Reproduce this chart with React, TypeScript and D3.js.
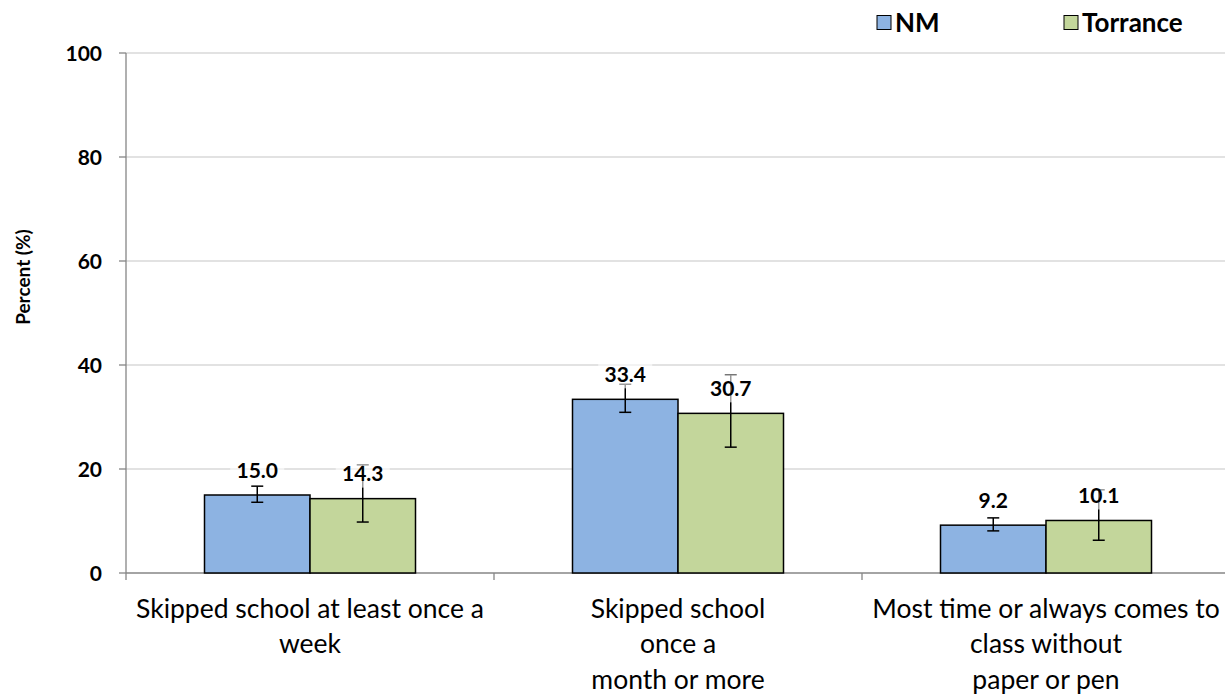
import React from "react";
import * as d3 from "d3";

const categories: string[][] = [
  ["Skipped school at least once a", "week"],
  ["Skipped school", "once a", "month or more"],
  ["Most time or always comes to", "class without", "paper or pen"],
];
const seriesNames = ["NM", "Torrance"];
const nmValues = [15.0, 33.4, 9.2];
const torranceValues = [14.3, 30.7, 10.1];
const nmLow = [13.6, 30.9, 8.1];
const nmHigh = [16.7, 36.3, 10.6];
const torLow = [9.8, 24.2, 6.3];
const torHigh = [20.8, 38.1, 16.0];
const yTicks = [0, 20, 40, 60, 80, 100];
const colors = ["#8db3e2", "#c3d69b"];

const W = 1225, H = 694;
const left = 126, right = 1230, top = 53, bottom = 573;
const FONT = "Lato, 'Open Sans', sans-serif";

export default function App() {
  const y = d3.scaleLinear().domain([0, 100]).range([bottom, top]);
  const x0 = d3.scaleBand<number>().domain([0, 1, 2]).range([left, right]).paddingInner(0).paddingOuter(0);
  const barW = 105.5;
  const x1 = d3.scaleBand<number>().domain([0, 1]).range([0, barW * 2]);
  const series = [
    { vals: nmValues, lo: nmLow, hi: nmHigh },
    { vals: torranceValues, lo: torLow, hi: torHigh },
  ];
  const catCenter = (i: number) => (x0(i) as number) + x0.bandwidth() / 2;

  return (
    <svg width={W} height={H} style={{ position: "absolute", left: 0, top: 0, background: "#fff" }} fontFamily={FONT}>
      <rect width={W} height={H} fill="#fff" />
      {yTicks.map((t) => (
        <g key={t}>
          {t > 0 && <line x1={left} x2={right} y1={y(t)} y2={y(t)} stroke="#d9d9d9" strokeWidth={1.3} />}
          <line x1={left - 7} x2={left} y1={y(t)} y2={y(t)} stroke="#868686" strokeWidth={1.3} />
          <text x={102} y={y(t)} dy="0.36em" textAnchor="end" fontWeight="bold" fontSize={21} fill="#000">{t}</text>
        </g>
      ))}
      <line x1={left} x2={left} y1={top} y2={bottom} stroke="#868686" strokeWidth={1.3} />
      <line x1={left} x2={right} y1={bottom} y2={bottom} stroke="#868686" strokeWidth={1.3} />
      {[0, 1, 2, 3].map((i) => {
        const xx = i < 3 ? (x0(i) as number) : right;
        return <line key={i} x1={xx} x2={xx} y1={bottom} y2={bottom + 7} stroke="#868686" strokeWidth={1.3} />;
      })}
      <text transform={`translate(23,277) rotate(-90)`} textAnchor="middle" fontWeight="bold" fontSize={19} dy="0.36em">Percent (%)</text>

      {series.map((s, si) =>
        s.vals.map((v, ci) => {
          const bx = catCenter(ci) - barW + (x1(si) as number);
          return (
            <rect key={`b${si}${ci}`} x={bx} y={y(v)} width={barW} height={bottom - y(v)} fill={colors[si]} stroke="#000" strokeWidth={1.5} />
          );
        })
      )}
      {series.map((s, si) =>
        s.vals.map((v, ci) => {
          const cx = catCenter(ci) - barW + (x1(si) as number) + barW / 2;
          return (
            <g key={`e${si}${ci}`} stroke="#000" strokeWidth={1.5}>
              <line x1={cx} x2={cx} y1={y(s.hi[ci])} y2={y(s.lo[ci])} />
              <line x1={cx - 6} x2={cx + 6} y1={y(s.hi[ci])} y2={y(s.hi[ci])} />
              <line x1={cx - 6} x2={cx + 6} y1={y(s.lo[ci])} y2={y(s.lo[ci])} />
            </g>
          );
        })
      )}
      {series.map((s, si) =>
        s.vals.map((v, ci) => {
          const cx = catCenter(ci) - barW + (x1(si) as number) + barW / 2;
          const cy = y(v) - 25;
          const tw = v.toFixed(1).length * 11;
          return (
            <g key={`l${si}${ci}`}>
              <rect x={cx - tw / 2 - 5} y={cy - 14} width={tw + 10} height={28} fill="#fff" opacity={0.6} />
              <text x={cx} y={cy} dy="0.36em" textAnchor="middle" fontWeight="bold" fontSize={21}>{v.toFixed(1)}</text>
            </g>
          );
        })
      )}
      {categories.map((lines, ci) => (
        <text key={ci} x={catCenter(ci)} textAnchor="middle" fontSize={26.5}>
          {lines.map((ln, li) => (
            <tspan key={li} x={catCenter(ci)} y={609 + li * 35.3} dy="0.34em">{ln}</tspan>
          ))}
        </text>
      ))}
      {seriesNames.map((n, i) => {
        const lx = i === 0 ? 877 : 1064;
        return (
          <g key={n}>
            <rect x={lx} y={15.5} width={14} height={14} fill={colors[i]} stroke="#000" strokeWidth={1} />
            <text x={lx + 18} y={23} dy="0.36em" fontWeight="bold" fontSize={26}>{n}</text>
          </g>
        );
      })}
    </svg>
  );
}
